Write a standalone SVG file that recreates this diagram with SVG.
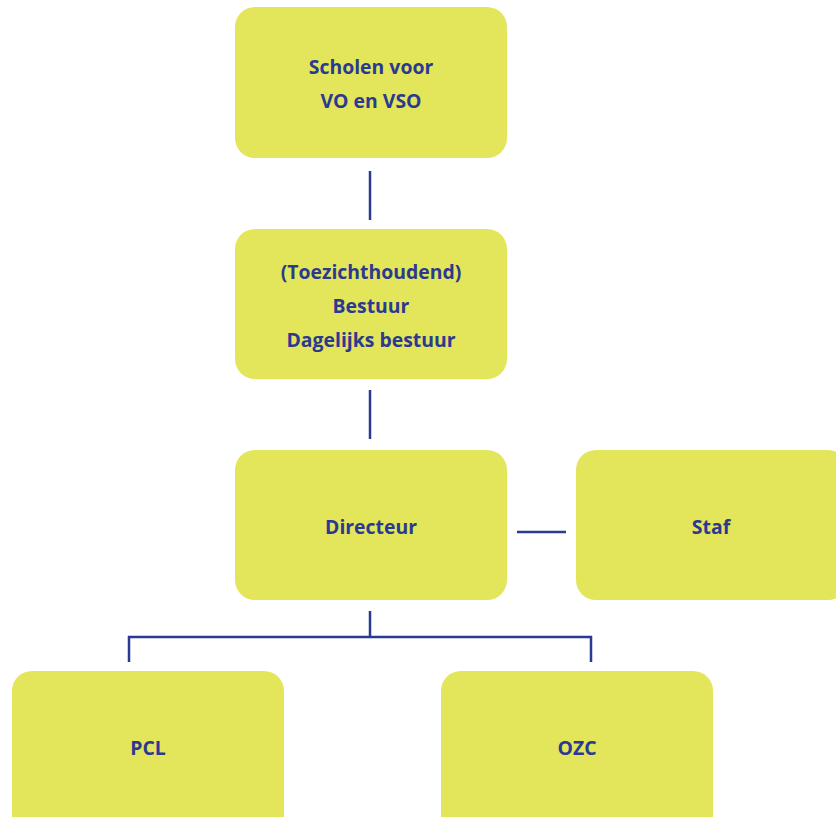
<svg xmlns="http://www.w3.org/2000/svg" width="836" height="817" viewBox="0 0 836 817">
<style>
.box{fill:#E3E55A}
.t{font-family:"Open Sans","Liberation Sans",sans-serif;font-weight:bold;font-size:19.4px;fill:#2B3990;text-anchor:middle}
.c{stroke:#2B3990;stroke-width:2.5;fill:none}
</style>
<rect width="836" height="817" fill="#fff"/>
<g id="connectors">
<path class="c" d="M370 171V220"/>
<path class="c" d="M370 390V439"/>
<path class="c" d="M517 532H566"/>
<path class="c" d="M370 611V637M129 662V637H591V662"/>
</g>
<g id="scholen"><rect class="box" x="235" y="7" width="272" height="151" rx="20"/><text class="t" x="371" y="74">Scholen voor</text><text class="t" x="371" y="108">VO en VSO</text></g>
<g id="bestuur"><rect class="box" x="235" y="229" width="272" height="150" rx="20"/><text class="t" x="371" y="279">(Toezichthoudend)</text><text class="t" x="371" y="313">Bestuur</text><text class="t" x="371" y="347">Dagelijks bestuur</text></g>
<g id="directeur"><rect class="box" x="235" y="450" width="272" height="150" rx="20"/><text class="t" x="371" y="534">Directeur</text></g>
<g id="staf"><rect class="box" x="576" y="450" width="272" height="150" rx="20"/><text class="t" x="711" y="534">Staf</text></g>
<g id="pcl"><rect class="box" x="12" y="671" width="272" height="170" rx="20"/><text class="t" x="148" y="755">PCL</text></g>
<g id="ozc"><rect class="box" x="441" y="671" width="272" height="170" rx="20"/><text class="t" x="577" y="755">OZC</text></g>
</svg>
